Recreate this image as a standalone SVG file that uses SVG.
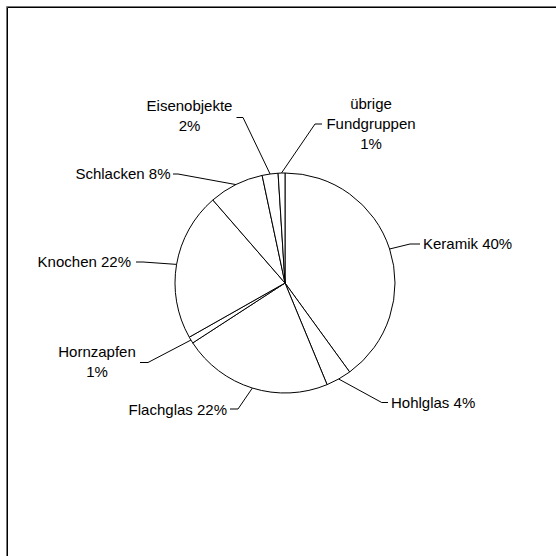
<svg xmlns="http://www.w3.org/2000/svg" width="556" height="556" viewBox="0 0 556 556">
<style>
.bg{fill:#fff}
.slice{fill:#fff;stroke:#000;stroke-width:1;stroke-linejoin:round}
.lbl{font-family:"Liberation Sans",Arial,sans-serif;font-size:15px;fill:#000}
.mid{text-anchor:middle}
.end{text-anchor:end}
.lead{fill:none;stroke:#000;stroke-width:1}
</style>
<rect class="bg" x="0" y="0" width="556" height="556"/>
<g id="frame">
<polyline points="6.5,560 6.5,6.5 560,6.5" fill="none" stroke="#777" stroke-width="1"/>
<polyline points="7.5,560 7.5,7.5 560,7.5" fill="none" stroke="#000" stroke-width="1"/>
</g>
<g id="pie">
<g id="keramik"><path class="slice" d="M285,283 L285,173 A110,110 0 0 1 349.66,371.99 Z"/></g>
<g id="hohlglas"><path class="slice" d="M285,283 L349.66,371.99 A110,110 0 0 1 327.09,384.63 Z"/></g>
<g id="flachglas"><path class="slice" d="M285,283 L327.09,384.63 A110,110 0 0 1 192.74,342.91 Z"/></g>
<g id="hornzapfen"><path class="slice" d="M285,283 L192.74,342.91 A110,110 0 0 1 189.26,337.16 Z"/></g>
<g id="knochen"><path class="slice" d="M285,283 L189.26,337.16 A110,110 0 0 1 212.83,199.98 Z"/></g>
<g id="schlacken"><path class="slice" d="M285,283 L212.83,199.98 A110,110 0 0 1 262.13,175.41 Z"/></g>
<g id="eisenobjekte"><path class="slice" d="M285,283 L262.13,175.41 A110,110 0 0 1 278.09,173.22 Z"/></g>
<g id="uebrige"><path class="slice" d="M285,283 L278.09,173.22 A110,110 0 0 1 285,173 Z"/></g>
</g>
<g id="connectors">
<polyline class="lead" points="389.6,249 410,244 420,244"/>
<polyline class="lead" points="338.7,379 381.7,402.5 388,402.5"/>
<polyline class="lead" points="252.4,388 238,409 230,409"/>
<polyline class="lead" points="191,340 148,362.5 140,362.5"/>
<polyline class="lead" points="176.6,264.4 143,262 136,262"/>
<polyline class="lead" points="236,184.6 178,174 173,174"/>
<polyline class="lead" points="270.1,174 243,117.5 236.5,117.5"/>
<polyline class="lead" points="281.5,173 315,124 322,124"/>
</g>
<g id="label-keramik"><text class="lbl" x="423" y="248.5">Keramik 40%</text></g>
<g id="label-hohlglas"><text class="lbl" x="391" y="407.5">Hohlglas 4%</text></g>
<g id="label-flachglas"><text class="lbl end" x="227" y="414.5">Flachglas 22%</text></g>
<g id="label-hornzapfen"><text class="lbl mid" x="97" y="357">Hornzapfen</text><text class="lbl mid" x="97" y="377">1%</text></g>
<g id="label-knochen"><text class="lbl end" x="131" y="267">Knochen 22%</text></g>
<g id="label-schlacken"><text class="lbl end" x="170.5" y="178.5">Schlacken 8%</text></g>
<g id="label-eisenobjekte"><text class="lbl mid" x="189.5" y="111">Eisenobjekte</text><text class="lbl mid" x="189.5" y="131">2%</text></g>
<g id="label-uebrige"><text class="lbl mid" x="371" y="109">übrige</text><text class="lbl mid" x="371" y="129">Fundgruppen</text><text class="lbl mid" x="371" y="149">1%</text></g>
</svg>
